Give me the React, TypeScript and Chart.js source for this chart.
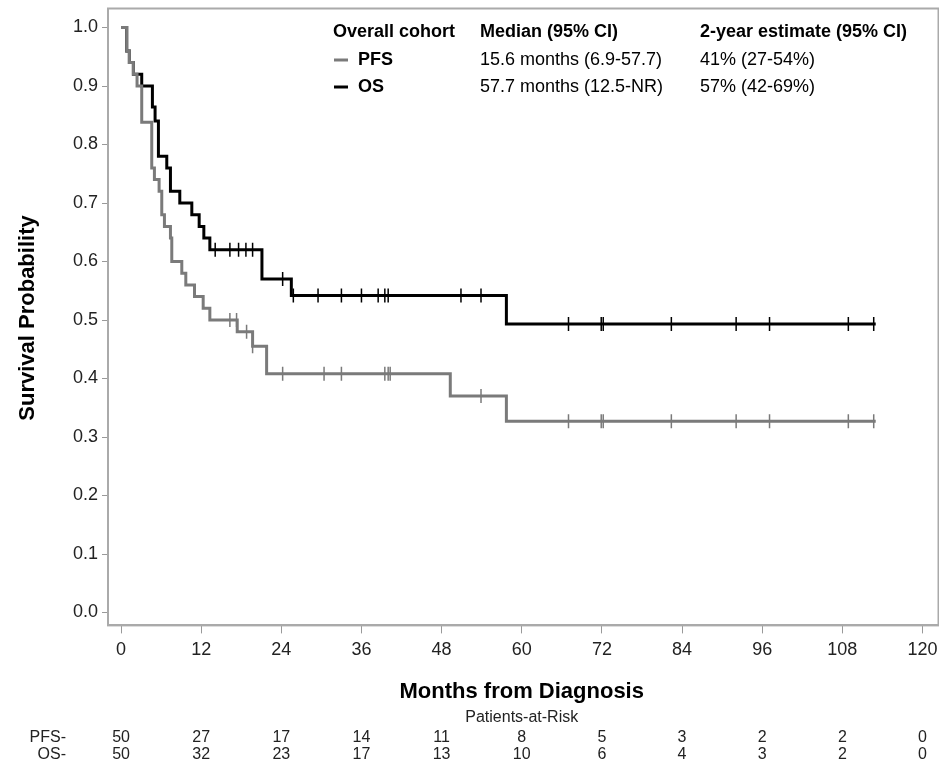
import React, { useEffect, useRef } from "react";
import Chart from "chart.js/auto";

// Kaplan-Meier steps: [month, survival]
const osSteps: [number, number][] = [
  [0, 1.0], [0.85, 0.96], [1.25, 0.94], [1.85, 0.92], [3.1, 0.9], [4.7, 0.864],
  [5.1, 0.84], [5.6, 0.78], [6.85, 0.76], [7.4, 0.72], [8.8, 0.7], [10.6, 0.68],
  [11.7, 0.66], [12.4, 0.64], [13.3, 0.62], [21.1, 0.57], [25.5, 0.542],
  [57.7, 0.493], [113, 0.493],
];
const pfsSteps: [number, number][] = [
  [0, 1.0], [0.85, 0.96], [1.25, 0.94], [1.85, 0.92], [2.4, 0.9], [3.1, 0.838],
  [4.6, 0.76], [5.0, 0.74], [5.7, 0.72], [6.1, 0.68], [6.5, 0.66], [7.4, 0.64],
  [7.6, 0.6], [9.1, 0.58], [9.7, 0.56], [11.0, 0.54], [12.3, 0.52], [13.3, 0.5],
  [17.4, 0.48], [19.7, 0.455], [21.8, 0.408], [49.3, 0.37], [57.7, 0.327],
  [113, 0.327],
];
const osCensored = [14.1, 16.3, 17.6, 18.7, 19.7, 24.2, 25.8, 29.5, 33, 36, 38.5, 39.5, 40, 50.9, 53.9, 67, 71.9, 72.2, 82.4, 92.1, 97.1, 108.9, 112.7];
const pfsCensored = [16.3, 17.3, 18.8, 19.7, 24.2, 30.4, 33, 39.5, 40, 40.3, 53.9, 67, 71.9, 72.2, 82.4, 92.1, 97.1, 108.9, 112.7];

const xTicks = [0, 12, 24, 36, 48, 60, 72, 84, 96, 108, 120];
const yTicks = [0, 0.1, 0.2, 0.3, 0.4, 0.5, 0.6, 0.7, 0.8, 0.9, 1.0];
const pfsAtRisk = [50, 27, 17, 14, 11, 8, 5, 3, 2, 2, 0];
const osAtRisk = [50, 32, 23, 17, 13, 10, 6, 4, 3, 2, 0];

const legendRows = [
  { label: "PFS", color: "#7a7a7a", median: "15.6 months (6.9-57.7)", est: "41% (27-54%)" },
  { label: "OS", color: "#000000", median: "57.7 months (12.5-NR)", est: "57% (42-69%)" },
];

const FONT = "'Liberation Sans Narrow', 'Liberation Sans', Arial, sans-serif";
const GRAY = "#7a7a7a";

const survAt = (steps: [number, number][], t: number) => {
  let s = steps[0][1];
  for (const [m, v] of steps) if (m <= t) s = v;
  return s;
};

const overlay = {
  id: "overlay",
  afterDraw(chart: any) {
    const { ctx, scales } = chart;
    const x = scales.x;
    ctx.save();
    ctx.fillStyle = "#000";
    ctx.textBaseline = "middle";
    // legend table
    ctx.font = `bold 18px ${FONT}`;
    ctx.textAlign = "left";
    ctx.fillText("Overall cohort", 333, 32);
    ctx.fillText("Median (95% CI)", 480, 32);
    ctx.fillText("2-year estimate (95% CI)", 700, 32);
    legendRows.forEach((r, i) => {
      const y = 60 + i * 27;
      ctx.strokeStyle = r.color;
      ctx.lineWidth = 3;
      ctx.beginPath();
      ctx.moveTo(334, y);
      ctx.lineTo(348, y);
      ctx.stroke();
      ctx.fillStyle = "#000";
      ctx.font = `bold 18px ${FONT}`;
      ctx.fillText(r.label, 358, y);
      ctx.font = `18px ${FONT}`;
      ctx.fillText(r.median, 480, y);
      ctx.fillText(r.est, 700, y);
    });
    // axis titles
    ctx.textAlign = "center";
    ctx.font = `bold 22px ${FONT}`;
    ctx.fillText("Months from Diagnosis", x.getPixelForValue(60), 692);
    ctx.save();
    ctx.translate(28, 318);
    ctx.rotate(-Math.PI / 2);
    ctx.fillText("Survival Probability", 0, 0);
    ctx.restore();
    // risk table
    ctx.font = `16px ${FONT}`;
    ctx.fillStyle = "#222";
    ctx.fillText("Patients-at-Risk", x.getPixelForValue(60), 718);
    ctx.textAlign = "right";
    ctx.fillText("PFS-", 66, 738);
    ctx.fillText("OS-", 66, 755);
    ctx.textAlign = "center";
    xTicks.forEach((t, i) => {
      const px = x.getPixelForValue(t);
      ctx.fillText(String(pfsAtRisk[i]), px, 738);
      ctx.fillText(String(osAtRisk[i]), px, 755);
    });
    ctx.restore();
  },
};

export default function App() {
  const canvasRef = useRef<HTMLCanvasElement>(null);
  const chartRef = useRef<Chart>();

  useEffect(() => {
    if (chartRef.current) chartRef.current.destroy();
    const c = canvasRef.current?.getContext("2d");
    if (!c) return;
    const toPts = (s: [number, number][]) => s.map(([m, v]) => ({ x: m, y: v }));
    const cens = (steps: [number, number][], ts: number[]) => ts.map((t) => ({ x: t, y: survAt(steps, t) }));
    chartRef.current = new Chart(c, {
      type: "line",
      data: {
        datasets: [
          { data: toPts(pfsSteps), stepped: "before", borderColor: GRAY, borderWidth: 3, pointRadius: 0 },
          { data: toPts(osSteps), stepped: "before", borderColor: "#000", borderWidth: 3, pointRadius: 0 },
          { data: cens(pfsSteps, pfsCensored), showLine: false, pointStyle: "line", rotation: 90, pointRadius: 7, borderColor: GRAY, borderWidth: 1.5 },
          { data: cens(osSteps, osCensored), showLine: false, pointStyle: "line", rotation: 90, pointRadius: 7, borderColor: "#000", borderWidth: 1.5 },
        ] as any,
      },
      options: {
        animation: false,
        responsive: false,
        layout: { padding: { left: 0, right: 0, top: 8, bottom: 98 } },
        plugins: { legend: { display: false }, tooltip: { enabled: false } },
        scales: {
          x: {
            type: "linear",
            min: -1.95,
            max: 122.4,
            afterBuildTicks: (s: any) => { s.ticks = xTicks.map((v) => ({ value: v })); },
            grid: { drawOnChartArea: false, tickLength: 8, color: "#999" },
            border: { color: "#aaa", width: 2 },
            ticks: { color: "#222", font: { family: FONT, size: 18 }, padding: 6 },
          },
          y: {
            type: "linear",
            min: -0.022,
            max: 1.0325,
            afterBuildTicks: (s: any) => { s.ticks = yTicks.map((v) => ({ value: v })); },
            afterFit: (s: any) => { s.width = 108; s.paddingTop = 0; s.paddingBottom = 0; },
            grid: { drawOnChartArea: false, tickLength: 6, color: "#999" },
            border: { color: "#aaa", width: 2 },
            ticks: { color: "#222", font: { family: FONT, size: 18 }, padding: 4, callback: (v: any) => Number(v).toFixed(1) },
          },
        },
      },
      plugins: [
        overlay,
        {
          id: "box",
          afterDraw(chart: any) {
            const { ctx, chartArea: a } = chart;
            ctx.save();
            ctx.strokeStyle = "#aaa";
            ctx.lineWidth = 2;
            ctx.strokeRect(a.left, a.top, a.right - a.left, a.bottom - a.top);
            ctx.restore();
          },
        },
      ],
    });
    return () => chartRef.current?.destroy();
  }, []);

  return (
    <div style={{ position: "absolute", left: 0, top: 0, width: 939, height: 765, overflow: "hidden", background: "#fff" }}>
      <canvas ref={canvasRef} width={947} height={765} style={{ width: 947, height: 765 }} />
    </div>
  );
}
